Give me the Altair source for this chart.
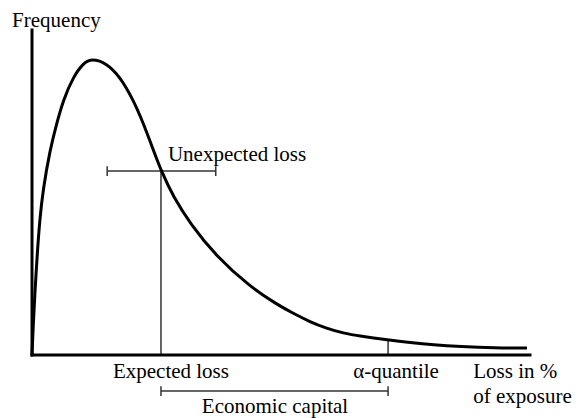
import altair as alt
import pandas as pd

# Loss distribution curve (loss in % of exposure scaled 0..100, frequency 0..100)
loss_x = [0, 0.2, 0.54, 1.06, 1.55, 2.21, 3.61, 4.96, 6.29, 8.29, 10.3, 12.0,
          15.0, 17.67, 20.34, 22.35, 24.36, 26.04, 28.37, 31.73, 37.09, 43.78, 49.14,
          52.47, 55.82, 59.18, 62.51, 65.86, 71.55, 75.9, 80.58, 85.94, 93.0, 99.4]
freq = [0, 7.7, 17.9, 31.4, 41.5, 50.8, 63.1, 71.3, 78.5, 85.6, 89.8, 91.2,
        89.8, 85.6, 78.5, 71.3, 63.1, 56.3, 48.7, 40.5, 30.2, 21.0, 15.6,
        12.8, 10.2, 8.2, 6.7, 5.8, 4.6, 3.8, 3.1, 2.6, 2.2, 2.15]

expected_loss = 25.9
el_freq = 56.3
quantile = 71.5
q_freq = 4.6
ul_left, ul_right, ul_y = 15.1, 36.9, 56.6
ec_y = -11.1
tick_half = 1.5

# axis lines
axis_x = [0, 0]
axis_x2 = [0, 100]
axis_y = [0, 0]
axis_y2 = [100, 0]

# thin annotation segments
seg_x = [expected_loss, ul_left, ul_left, ul_right, quantile, expected_loss, expected_loss, quantile]
seg_x2 = [expected_loss, ul_right, ul_left, ul_right, quantile, quantile, expected_loss, quantile]
seg_y = [0, ul_y, ul_y - tick_half, ul_y - tick_half, 0, ec_y, ec_y - tick_half, ec_y - tick_half]
seg_y2 = [el_freq, ul_y, ul_y + tick_half, ul_y + tick_half, q_freq, ec_y, ec_y + tick_half, ec_y + tick_half]

# labels
left_labels = ["Frequency", "Unexpected loss", "Loss in %", "of exposure"]
left_x = [-4.0, 27.3, 88.6, 88.6]
left_y = [100.9, 59.7, -7.1, -14.8]
center_labels = ["Expected loss", "α-quantile", "Economic capital"]
center_x = [27.9, 73.1, 48.8]
center_y = [-7.1, -7.1, -17.8]

xs = alt.Scale(domain=[0, 100], nice=False, zero=False)
ys = alt.Scale(domain=[0, 100], nice=False, zero=False)

curve_df = pd.DataFrame({"x": loss_x, "y": freq})
axes_df = pd.DataFrame({"x": axis_x, "x2": axis_x2, "y": axis_y, "y2": axis_y2})
seg_df = pd.DataFrame({"x": seg_x, "x2": seg_x2, "y": seg_y, "y2": seg_y2})
left_df = pd.DataFrame({"x": left_x, "y": left_y, "label": left_labels})
center_df = pd.DataFrame({"x": center_x, "y": center_y, "label": center_labels})

curve = alt.Chart(curve_df).mark_line(
    color="black", strokeWidth=3, interpolate="basis"
).encode(
    x=alt.X("x:Q", scale=xs, axis=None),
    y=alt.Y("y:Q", scale=ys, axis=None),
)

axes = alt.Chart(axes_df).mark_rule(color="black", strokeWidth=3, strokeCap="square").encode(
    x=alt.X("x:Q", scale=xs, axis=None), x2="x2:Q",
    y=alt.Y("y:Q", scale=ys, axis=None), y2="y2:Q",
)

segs = alt.Chart(seg_df).mark_rule(color="#333333", strokeWidth=1.5).encode(
    x=alt.X("x:Q", scale=xs, axis=None), x2="x2:Q",
    y=alt.Y("y:Q", scale=ys, axis=None), y2="y2:Q",
)

font = "Liberation Serif"
left_text = alt.Chart(left_df).mark_text(
    align="left", baseline="alphabetic", font=font, fontSize=21, color="black"
).encode(
    x=alt.X("x:Q", scale=xs, axis=None),
    y=alt.Y("y:Q", scale=ys, axis=None),
    text="label:N",
)

center_text = alt.Chart(center_df).mark_text(
    align="center", baseline="alphabetic", font=font, fontSize=21, color="black"
).encode(
    x=alt.X("x:Q", scale=xs, axis=None),
    y=alt.Y("y:Q", scale=ys, axis=None),
    text="label:N",
)

chart = alt.layer(segs, curve, axes, left_text, center_text).properties(
    width=498,
    height=325,
    autosize=alt.AutoSizeParams(type="none"),
    padding={"left": 24, "top": 22, "right": 42, "bottom": 63},
    background="white",
).configure_view(stroke=None)

chart.save("out.html", embed_options={"renderer": "svg", "actions": False})
